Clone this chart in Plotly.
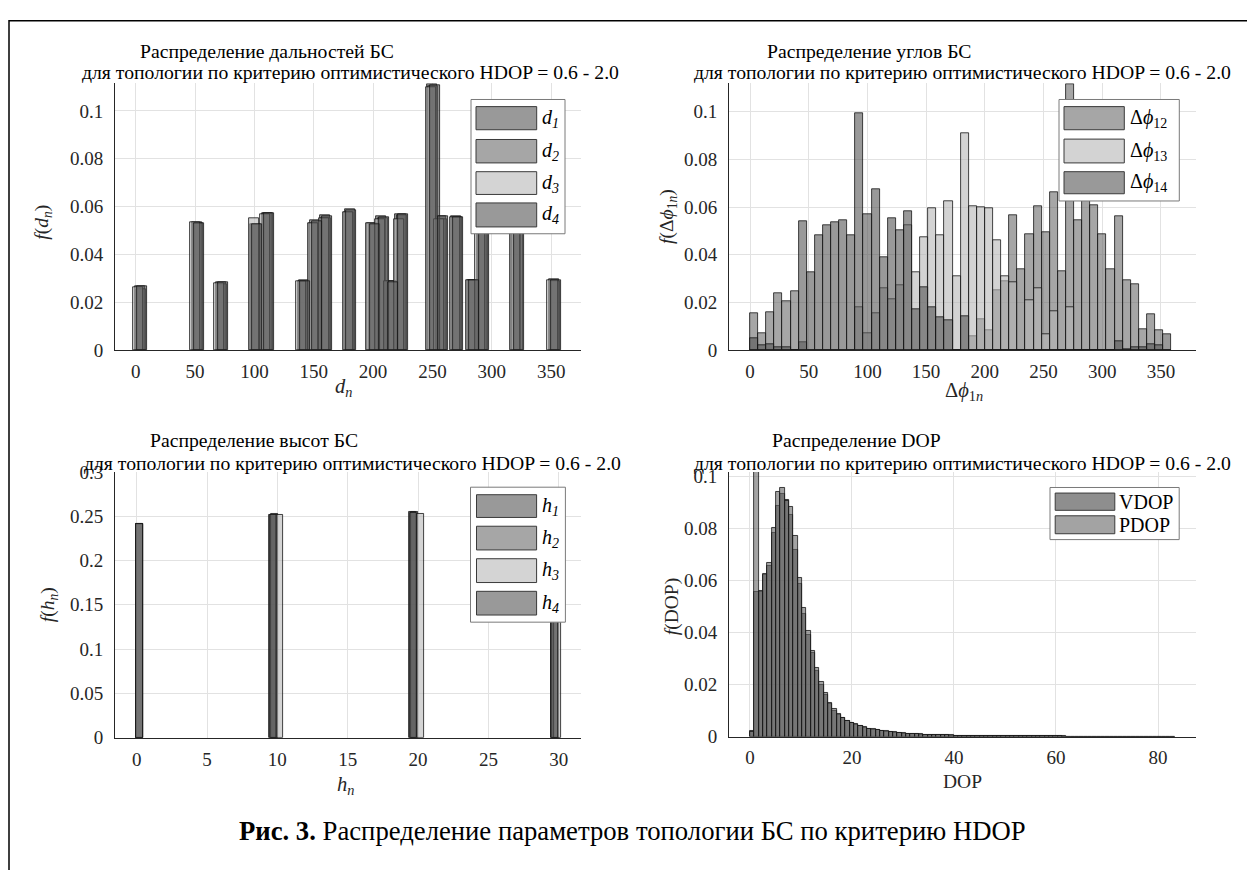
import plotly.graph_objects as go

W, H = 1247, 870
FONT = "Liberation Serif, Times New Roman, serif"

# ---------------- data ----------------
# distances d1..d4 : probability per bin
D_BINS = [3.5, 51.3, 71.7, 100.5, 110.5, 140.8, 150.5, 159.5, 179.7, 199.5,
          207.0, 215.0, 223.1, 249.8, 256.9, 269.8, 283.3, 291.5, 320.6, 352.3]
D1 = [0.0268, 0.0533, 0.0282, 0.0528, 0.0574, 0.0286, 0.0531, 0.0564, 0.0578, 0.0531,
      0.0558, 0.0286, 0.0569, 0.1111, 0.0560, 0.0558, 0.0292, 0.0560, 0.0555, 0.0295]
D2 = [0.0254, 0.0531, 0.0275, 0.0528, 0.0571, 0.0292, 0.0544, 0.0551, 0.0588, 0.0524,
      0.0552, 0.0286, 0.0562, 0.1102, 0.0547, 0.0555, 0.0290, 0.0565, 0.0560, 0.0286]
D3 = [0.0262, 0.0533, 0.0278, 0.0551, 0.0569, 0.0286, 0.0531, 0.0551, 0.0578, 0.0531,
      0.0548, 0.0286, 0.0548, 0.1100, 0.0545, 0.0554, 0.0292, 0.0570, 0.0565, 0.0290]
D4 = [0.0268, 0.0532, 0.0282, 0.0526, 0.0574, 0.0289, 0.0540, 0.0560, 0.0585, 0.0527,
      0.0556, 0.0284, 0.0566, 0.1108, 0.0558, 0.0557, 0.0290, 0.0562, 0.0556, 0.0292]

# angle differences, bins of 6.9 deg starting at 0
ANG_BIN_WIDTH = 6.9
PHI12 = [0.0155, 0.0072, 0.0159, 0.0240, 0.0205, 0.0245, 0.0031, 0, 0, 0,
         0, 0, 0, 0, 0, 0, 0, 0, 0, 0,
         0, 0, 0, 0, 0, 0, 0, 0.0057, 0.0130, 0.0082,
         0.0250, 0.0287, 0.0567, 0.0337, 0.0488, 0.0605, 0.0496, 0.0662, 0.0332, 0.1116,
         0.0545, 0.0640, 0.0607, 0.0484, 0.0337, 0.0560, 0.0294, 0.0277, 0.0089, 0.0150,
         0.0082, 0]
PHI13 = [0, 0, 0, 0, 0, 0, 0, 0, 0, 0,
         0, 0, 0, 0.0180, 0.0072, 0.0153, 0.0259, 0.0212, 0.0270, 0.0523,
         0.0325, 0.0475, 0.0594, 0.0481, 0.0624, 0.0311, 0.0908, 0.0604, 0.0601, 0.0594,
         0.0462, 0.0311, 0.0283, 0, 0.0209, 0.0259, 0.0068, 0.0164, 0, 0.0180,
         0, 0, 0, 0, 0, 0, 0, 0, 0, 0,
         0, 0]
PHI14 = [0.0050, 0.0018, 0.0022, 0.0013, 0.0013, 0, 0.0540, 0.0328, 0.0481, 0.0524,
         0.0538, 0.0544, 0.0481, 0.0994, 0.0570, 0.0673, 0.0389, 0.0553, 0.0501, 0.0583,
         0.0171, 0.0262, 0.0180, 0.0139, 0.0123, 0, 0.0143, 0, 0, 0,
         0, 0, 0, 0, 0, 0, 0, 0, 0, 0,
         0, 0, 0, 0, 0, 0.0036, 0.0005, 0.0010, 0.0012, 0.0022,
         0.0020, 0.0064]

# heights h1..h4
H1_X = [0.21, 9.62, 19.60, 29.68]
H2_X = [0.21, 9.80, 19.78, 29.75]
H3_X = [0.21, 10.14, 20.17, 29.88]
H4_X = [0.21, 9.70, 19.70, 29.72]
H1 = [0.2412, 0.2515, 0.2545, 0.2528]
H2 = [0.2405, 0.2522, 0.2548, 0.2525]
H3 = [0.2410, 0.2510, 0.2530, 0.2550]
H4 = [0.2412, 0.2518, 0.2540, 0.2530]

# DOP, bins of 0.85 starting at 0
DOP_BIN_WIDTH = 0.85
VDOP = [0.0023, 0.0555, 0.0555, 0.0619, 0.0657, 0.0780, 0.0885, 0.0930, 0.0910, 0.0850,
        0.0715, 0.0585, 0.0470, 0.0390, 0.0320, 0.0252, 0.0200, 0.0160, 0.0125, 0.0100,
        0.0085, 0.0070, 0.0060, 0.0052, 0.0045, 0.0040, 0.0035, 0.0030, 0.0027, 0.0024,
        0.0021, 0.0019, 0.0017, 0.0015, 0.0013, 0.0012, 0.0011, 0.0010, 0.0009, 0.0008,
        0.0007, 0.00065, 0.0006, 0.00055, 0.0005, 0.00045, 0.0004, 0.00038, 0.00035, 0.00032,
        0.0003, 0.00028, 0.00026, 0.00024, 0.00022, 0.0002, 0.00019, 0.00018, 0.00016, 0.00015,
        0.00014, 0.00013, 0.00012, 0.00011, 0.0001, 0.0001, 0.00009, 0.00009, 0.00008, 0.00008,
        0.00007, 0.00007, 0.00006, 0.00006, 0.00006, 0.00005, 0.00005, 0.00005, 0.00004, 0.00004,
        0.00004, 0.00004, 0.00003, 0.00003, 0.00003, 0.00003, 0.00003, 0.00002, 0.00002, 0.00002,
        0.00002, 0.00002, 0.00002, 0.00001, 0.00001, 0.00001, 0.00001, 0.00001]
PDOP = [0.0018, 0.1016, 0.0558, 0.0625, 0.0665, 0.0800, 0.0940, 0.0955, 0.0905, 0.0880,
        0.0770, 0.0610, 0.0495, 0.0405, 0.0330, 0.0262, 0.0208, 0.0166, 0.0130, 0.0105,
        0.0088, 0.0073, 0.0062, 0.0054, 0.0047, 0.0041, 0.0036, 0.0031, 0.0028, 0.0025,
        0.0022, 0.0020, 0.0018, 0.0016, 0.0014, 0.0013, 0.0012, 0.0011, 0.0010, 0.0009,
        0.0008, 0.0007, 0.00065, 0.0006, 0.00055, 0.0005, 0.00045, 0.0004, 0.00037, 0.00034,
        0.00031, 0.00029, 0.00027, 0.00025, 0.00023, 0.00021, 0.0002, 0.00019, 0.00017, 0.00016,
        0.00015, 0.00014, 0.00013, 0.00012, 0.00011, 0.0001, 0.0001, 0.00009, 0.00009, 0.00008,
        0.00008, 0.00007, 0.00007, 0.00006, 0.00006, 0.00005, 0.00005, 0.00005, 0.00004, 0.00004,
        0.00004, 0.00004, 0.00003, 0.00003, 0.00003, 0.00003, 0.00003, 0.00002, 0.00002, 0.00002,
        0.00002, 0.00002, 0.00002, 0.00001, 0.00001, 0.00001, 0.00001, 0.00001]

# ---------------- styling ----------------
EDGE = "#151515"
def face(g, a=0.6):
    return f"rgba({g},{g},{g},{a})"

fig = go.Figure()

def add_bars(x, y, w, g, xa, ya, shift=0.0):
    fig.add_trace(go.Bar(
        x=x, y=y, width=w, offset=-w / 2 + shift,
        marker=dict(color=face(g), line=dict(color=EDGE, width=0.8)),
        xaxis=xa, yaxis=ya, showlegend=False, hoverinfo="skip"))

# distances
for ys, g, s in [(D1, 85, 0.0), (D2, 107, 1.0), (D3, 183, -1.2), (D4, 85, 2.0)]:
    add_bars(D_BINS, ys, 8.5, g, "x", "y", s)

# angles
ang_centers = [ANG_BIN_WIDTH * (k + 0.5) for k in range(len(PHI12))]
for ys, g in [(PHI12, 107), (PHI13, 182), (PHI14, 85)]:
    add_bars(ang_centers, ys, ANG_BIN_WIDTH, g, "x2", "y2")

# heights
for xs, ys, g in [(H1_X, H1, 85), (H2_X, H2, 107), (H3_X, H3, 183), (H4_X, H4, 85)]:
    add_bars(xs, ys, 0.5, g, "x3", "y3")

# DOP
dop_centers = [DOP_BIN_WIDTH * (k + 0.5) for k in range(len(VDOP))]
add_bars(dop_centers, VDOP, DOP_BIN_WIDTH, 67, "x4", "y4")
add_bars(dop_centers, PDOP, DOP_BIN_WIDTH, 102, "x4", "y4")

def px_x(v):
    return v / W

def px_y(v):
    return 1 - v / H

TICKFONT = dict(family=FONT, size=19, color="#262626")
def xax(l, r, rng, dtick, yname):
    return dict(domain=[px_x(l), px_x(r)], range=rng, dtick=dtick, tick0=0,
                anchor=yname, showgrid=True, gridcolor="#e2e2e2", gridwidth=1,
                zeroline=False, showline=True, linecolor="#262626", linewidth=1,
                ticks="", tickfont=TICKFONT, ticklabelstandoff=4, fixedrange=True)

def yax(top, bot, rng, dtick, xname):
    return dict(domain=[px_y(bot), px_y(top)], range=rng, dtick=dtick, tick0=0,
                anchor=xname, showgrid=True, gridcolor="#e2e2e2", gridwidth=1,
                zeroline=False, showline=True, linecolor="#262626", linewidth=1,
                ticks="", tickfont=TICKFONT, ticklabelstandoff=7, fixedrange=True)

layout = dict(
    width=W, height=H, margin=dict(l=0, r=0, t=0, b=0),
    paper_bgcolor="white", plot_bgcolor="white", barmode="overlay",
    bargap=0, showlegend=False,
    xaxis=xax(115, 581, [-17.4, 375.1], 50, "y"),
    yaxis=yax(75, 348.3, [0, 0.1116], 0.02, "x"),
    xaxis2=xax(729, 1196, [-17.9, 379.9], 50, "y2"),
    yaxis2=yax(75, 348.3, [0, 0.112], 0.02, "x2"),
    xaxis3=xax(115, 581, [-1.54, 31.58], 5, "y3"),
    yaxis3=yax(473.3, 745.7, [0, 0.3], 0.05, "x3"),
    xaxis4=xax(729, 1196, [-4.1, 87.45], 20, "y4"),
    yaxis4=yax(473.3, 744.5, [0, 0.1016], 0.02, "x4"),
)

annotations = []
shapes = []

def ann(text, x, y, size, xanchor="center", yanchor="middle", angle=0, color="#000"):
    annotations.append(dict(text=text, x=px_x(x), y=px_y(y), xref="paper", yref="paper",
                            showarrow=False, xanchor=xanchor, yanchor=yanchor,
                            textangle=angle, font=dict(family=FONT, size=size, color=color)))

def rect(x0, y0, x1, y1, fill, line, lw=1):
    shapes.append(dict(type="rect", xref="paper", yref="paper",
                       x0=px_x(x0), x1=px_x(x1), y0=px_y(y0), y1=px_y(y1),
                       fillcolor=fill, line=dict(color=line, width=lw), layer="above"))

SUB = "для топологии по критерию оптимистического HDOP = 0.6 - 2.0"
TS = 19.7
# titles
ann("Распределение дальностей БС", 267, 42, TS)
ann(SUB, 350, 64, TS)
ann("Распределение углов БС", 869, 42, TS)
ann(SUB, 963, 64, TS)
ann("Распределение высот БС", 254, 441, TS)
ann(SUB, 352, 464, TS)
ann("Распределение DOP", 856, 441, TS)
ann(SUB, 963, 464, TS)

# axis labels
ann("<i>f</i>(<i>d<sub>n</sub></i>)", 43, 218, 19.5, angle=-90, color="#262626")
ann("<i>d<sub>n</sub></i>", 343, 387, 20.5, color="#262626")
ann("<i>f</i>(Δ<i>ϕ</i><sub>1<i>n</i></sub>)", 668, 212, 19.5, angle=-90, color="#262626")
ann("Δ<i>ϕ</i><sub>1<i>n</i></sub>", 964, 391, 20.5, color="#262626")
ann("<i>f</i>(<i>h<sub>n</sub></i>)", 49, 610, 19.5, angle=-90, color="#262626")
ann("<i>h<sub>n</sub></i>", 345, 795, 20.5, color="#262626")
ann("<i>f</i>(DOP)", 672, 612, 19.5, angle=-90, color="#262626")
ann("DOP", 963, 791, 19.5, color="#262626")

# caption
ann("<b>Рис. 3.</b> Распределение параметров топологии БС по критерию HDOP", 632, 841, 26.7)

# custom legends
LEG_EDGE = "#7a7a7a"
SW_EDGE = "#3a3a3a"

def legend(box, sw_x, rows, colors, labels, lab_x, size=20):
    rect(box[0], box[1], box[2], box[3], "white", LEG_EDGE)
    for (r0, r1), c, t in zip(rows, colors, labels):
        rect(sw_x[0], r0, sw_x[1], r1, c, SW_EDGE)
        ann(t, lab_x, (r0 + r1) / 2, size, xanchor="left")

legend((471, 91.7, 565, 229.3), (476, 536.7),
       [(99, 122.7), (132.7, 156.7), (165.7, 189), (197.7, 222.3)],
       ["#999999", "#a6a6a6", "#d4d4d4", "#999999"],
       ["<i>d<sub>1</sub></i>", "<i>d<sub>2</sub></i>", "<i>d<sub>3</sub></i>", "<i>d<sub>4</sub></i>"], 540)
legend((1059, 91.7, 1179.3, 195.7), (1064, 1124.3),
       [(99, 122.7), (132.3, 156.7), (165.7, 188.3)],
       ["#a6a6a6", "#d3d3d3", "#999999"],
       ["Δ<i>ϕ</i><sub>12</sub>", "Δ<i>ϕ</i><sub>13</sub>", "Δ<i>ϕ</i><sub>14</sub>"], 1128)
legend((470.5, 489, 565.4, 627.3), (476.5, 536.6),
       [(496.7, 520), (529, 553.3), (562.3, 586.7), (595.7, 620)],
       ["#999999", "#a6a6a6", "#d4d4d4", "#999999"],
       ["<i>h<sub>1</sub></i>", "<i>h<sub>2</sub></i>", "<i>h<sub>3</sub></i>", "<i>h<sub>4</sub></i>"], 540)
legend((1050, 489.3, 1179.2, 542.7), (1055.2, 1114.8),
       [(495, 512.7), (518.3, 536.7)],
       ["#8e8e8e", "#a3a3a3"],
       ["VDOP", "PDOP"], 1117)

# outer frame (left and top edges visible)
shapes.append(dict(type="rect", xref="paper", yref="paper",
                   x0=px_x(9), x1=1.05, y0=px_y(11), y1=-0.05,
                   line=dict(color="#000", width=1.5), fillcolor="rgba(0,0,0,0)", layer="above"))

layout["annotations"] = annotations
layout["shapes"] = shapes
fig.update_layout(**layout)
fig.write_html("out.html", config={"displayModeBar": False},
               post_script="document.body.style.margin='0';document.body.style.overflow='hidden';")
